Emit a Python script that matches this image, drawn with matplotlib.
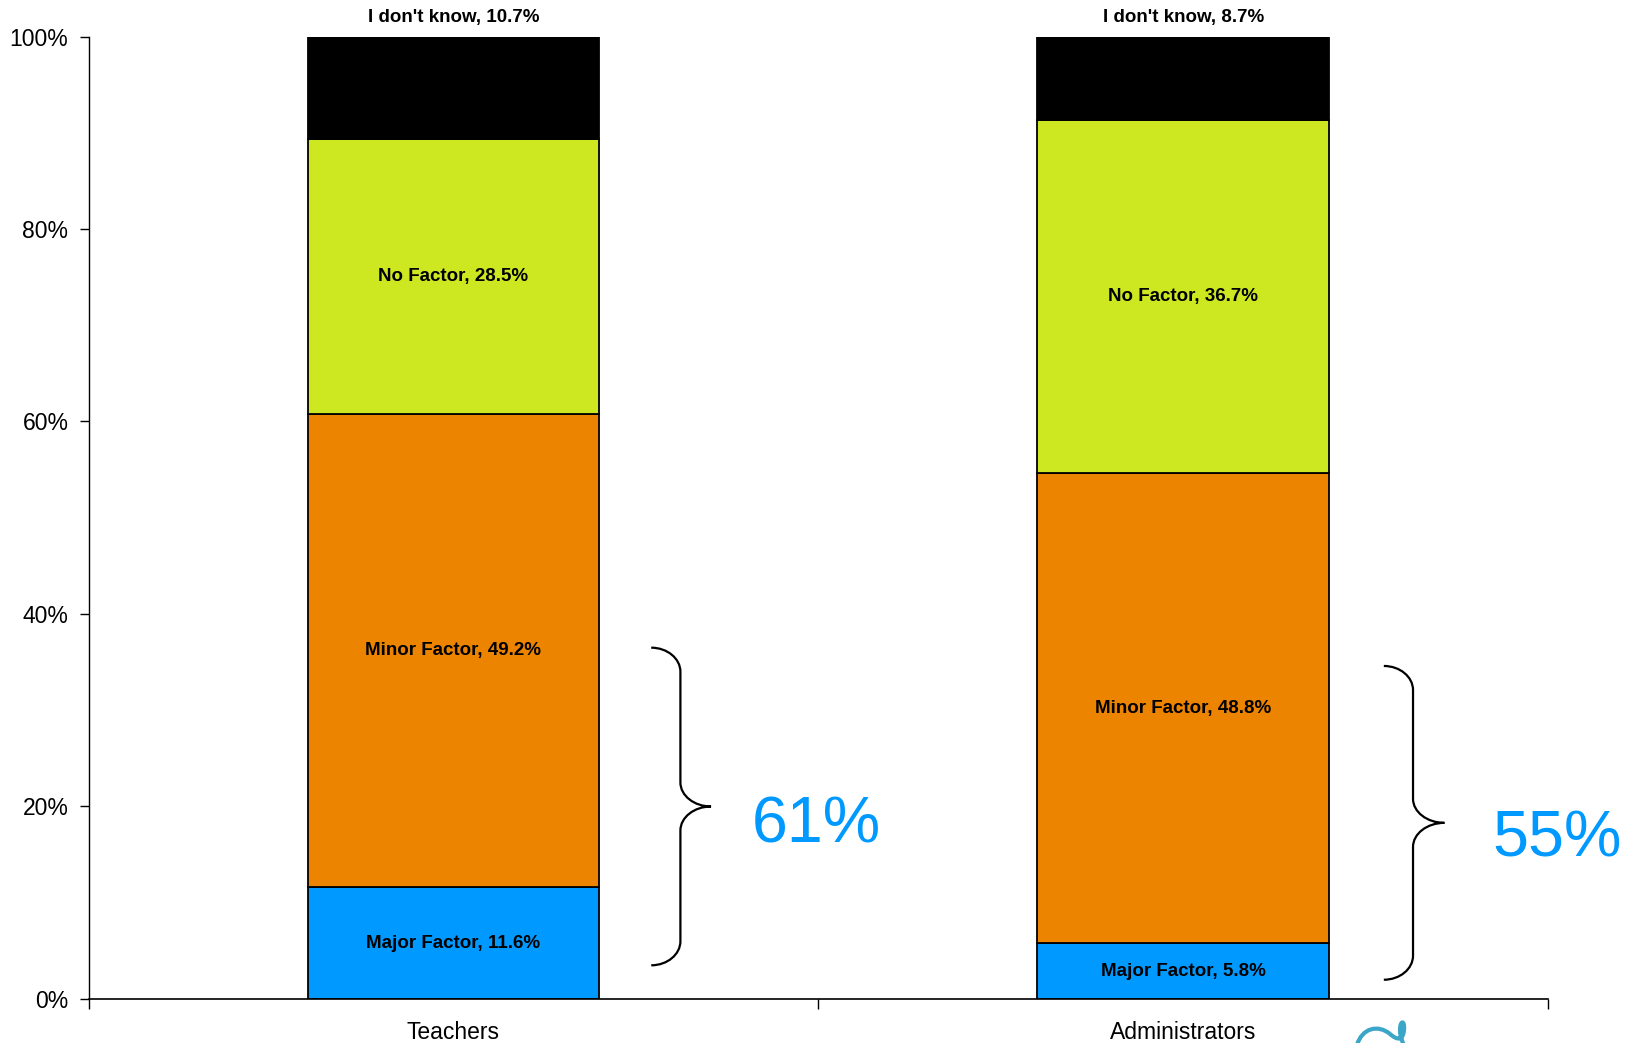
import numpy as np
import matplotlib.pyplot as plt
from matplotlib.path import Path
from matplotlib.patches import PathPatch

plt.rcParams['font.family'] = ['Liberation Sans', 'DejaVu Sans']

groups = ['Teachers', 'Administrators']
segments = ['Major Factor', 'Minor Factor', 'No Factor', "I don't know"]
major = [11.6, 5.8]
minor = [49.2, 48.8]
no_factor = [28.5, 36.7]
dont_know = [10.7, 8.7]
colors = ['#0099ff', '#ec8400', '#cde820', '#000000']
# share of "major + minor", shown beside each bar
combined = ['61%', '55%']

values = [major, minor, no_factor, dont_know]

fig = plt.figure(figsize=(16.35, 10.43), dpi=100)
ax = fig.add_axes([0.0542, 0.0422, 0.8926, 0.9228])

x = np.arange(len(groups))
bottom = np.zeros(len(groups))
for name, vals, col in zip(segments, values, colors):
    ax.bar(x, vals, width=0.4, bottom=bottom, color=col,
           edgecolor='black', linewidth=1.3, zorder=2)
    for i, v in enumerate(vals):
        label = f'{name}, {v}%'
        if name == "I don't know":
            ax.text(x[i], 102.0, label, ha='center', va='center',
                    fontsize=13.5, fontweight='bold', clip_on=False)
        else:
            ax.text(x[i], bottom[i] + v / 2, label, ha='center', va='center',
                    fontsize=13.5, fontweight='bold')
    bottom += np.array(vals)


def brace(ax, x0, xm, xt, y0, y1, r=2.5):
    ym = (y0 + y1) / 2
    k = 0.55
    dx = xm - x0
    dt = xt - xm
    verts = [
        (x0, y1),
        (x0 + dx * k, y1), (xm, y1 - r * (1 - k)), (xm, y1 - r),
        (xm, ym + r),
        (xm, ym + r * (1 - k)), (xt - dt * k, ym), (xt, ym),
        (xt - dt * k, ym), (xm, ym - r * (1 - k)), (xm, ym - r),
        (xm, y0 + r),
        (xm, y0 + r * (1 - k)), (x0 + dx * k, y0), (x0, y0),
    ]
    codes = [Path.MOVETO,
             Path.CURVE4, Path.CURVE4, Path.CURVE4,
             Path.LINETO,
             Path.CURVE4, Path.CURVE4, Path.CURVE4,
             Path.CURVE4, Path.CURVE4, Path.CURVE4,
             Path.LINETO,
             Path.CURVE4, Path.CURVE4, Path.CURVE4]
    ax.add_patch(PathPatch(Path(verts, codes), facecolor='none',
                           edgecolor='black', linewidth=1.6, clip_on=False))


brace(ax, 0.271, 0.311, 0.353, 3.5, 36.5)
brace(ax, 1.275, 1.315, 1.358, 2.0, 34.6)
ax.text(0.497, 18.0, combined[0], ha='center', va='center',
        fontsize=46.5, color='#0099ff')
ax.text(1.512, 16.6, combined[1], ha='center', va='center',
        fontsize=46.5, color='#0099ff', clip_on=False)

ax.set_xlim(-0.5, 1.5)
ax.set_ylim(0, 100)
ax.set_yticks(np.arange(0, 101, 20))
ax.set_yticklabels([f'{t}%' for t in range(0, 101, 20)])
ax.set_xticks(x)
ax.set_xticklabels(groups)
ax.set_xticks([-0.5, 0.5, 1.5], minor=True)
ax.tick_params(axis='x', which='major', length=0, pad=16, labelsize=16.5)
ax.tick_params(axis='x', which='minor', length=7, width=1)
ax.tick_params(axis='y', length=6.5, width=1, pad=8, labelsize=16.5)
ax.spines['top'].set_visible(False)
ax.spines['right'].set_visible(False)
ax.spines['left'].set_linewidth(1)
ax.spines['bottom'].set_linewidth(1.2)

# corner logo, cut off by the lower edge
W, H = 1635, 1043
logo_px = [(1357, 1045), (1362, 1028), (1378, 1024), (1390, 1034),
           (1398, 1041), (1403, 1040), (1404, 1030),
           (1405, 1020), (1400, 1020), (1400, 1030),
           (1400, 1038), (1403, 1043), (1404, 1045)]
logo_codes = [Path.MOVETO] + [Path.CURVE4] * 12
logo = Path([(px / W, 1 - py / H) for px, py in logo_px], logo_codes)
fig.add_artist(PathPatch(logo, facecolor='none', edgecolor='#3ba6c8',
                         linewidth=3, transform=fig.transFigure))

fig.savefig('out.png', dpi=100)
